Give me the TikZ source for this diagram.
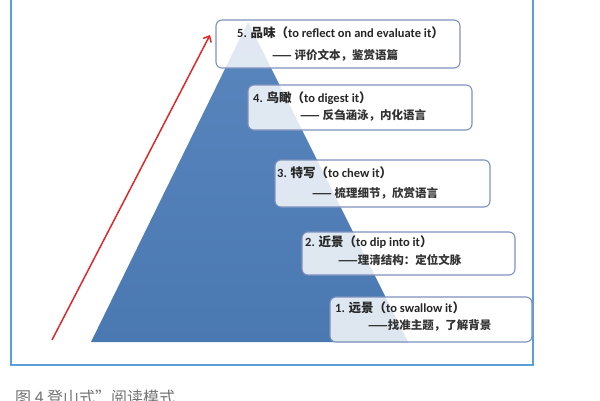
\documentclass[tikz,border=0pt]{standalone}
\usepackage{fontspec}
\setmainfont{Carlito}
\newfontfamily\cjk{Noto Sans CJK SC}
\usetikzlibrary{arrows.meta}
\newcommand{\zh}[1]{{\cjk #1}}
\definecolor{framecol}{HTML}{5A9FD8}
\definecolor{boxblue}{HTML}{7E91BD}
\definecolor{hilltop}{HTML}{5A86BE}
\definecolor{hillfoot}{HTML}{4A78B0}
\definecolor{climbred}{HTML}{E0282A}
\tikzset{
  stagebox/.style={draw=boxblue, line width=1.1pt, rounded corners=6pt, fill=white, fill opacity=0.82, text opacity=1},
  headline/.style={anchor=west, inner sep=0pt, text=black!85, font=\fontsize{12.5}{14}\selectfont\bfseries},
  subline/.style={anchor=west, inner sep=0pt, text=black!80, font=\fontsize{11.5}{13}\selectfont\cjk\bfseries},
  caption/.style={anchor=west, inner sep=0pt, text=black!55, font=\fontsize{16}{18}\selectfont\cjk}
}
\begin{document}
\begin{tikzpicture}[x=1pt,y=-1pt]
\useasboundingbox (0,0) rectangle (600,400);
\draw[framecol, line width=1.2pt] (11,-10) rectangle (533,365);
\coordinate (foot1) at (91,342);
\coordinate (peak) at (248,22);
\coordinate (foot2) at (408,342);
\shade[top color=hilltop, bottom color=hillfoot] (foot1) -- (peak) -- (foot2) -- cycle;
\coordinate (climb0) at (52,340);
\coordinate (climb1) at (210,35);
\draw[climbred, line width=1.5pt, -{Straight Barb[length=5pt,width=9pt]}] (climb0) -- (climb1);

\node[stagebox, minimum width=244pt, minimum height=48pt] (s5) at (338,44) {};
\node[stagebox, minimum width=224pt, minimum height=45pt] (s4) at (360,107.5) {};
\node[stagebox, minimum width=215pt, minimum height=47pt] (s3) at (382.5,183.5) {};
\node[stagebox, minimum width=213pt, minimum height=43pt] (s2) at (408.5,253.5) {};
\node[stagebox, minimum width=202pt, minimum height=45pt] (s1) at (431,319.5) {};

\node[headline] (h5) at (237,33) {5. \zh{品味（}to reflect on and evaluate it\zh{）}};
\node[subline] (l5) at (272,55) {—— 评价文本，鉴赏语篇};
\node[headline] (h4) at (253,98) {4. \zh{鸟瞰（}to digest it\zh{）}};
\node[subline] (l4) at (300,115) {—— 反刍涵泳，内化语言};
\node[headline] (h3) at (277,173) {3. \zh{特写（}to chew it\zh{）}};
\node[subline] (l3) at (312,193) {—— 梳理细节，欣赏语言};
\node[headline] (h2) at (305,242) {2. \zh{近景（}to dip into it\zh{）}};
\node[subline] (l2) at (338,260) {——理清结构：定位文脉};
\node[headline] (h1) at (335,308) {1. \zh{远景（}to swallow it\zh{）}};
\node[subline] (l1) at (368,325) {——找准主题，了解背景};

\node[caption] (cap) at (15,397) {图 4 登山式”阅读模式};
\end{tikzpicture}
\end{document}
